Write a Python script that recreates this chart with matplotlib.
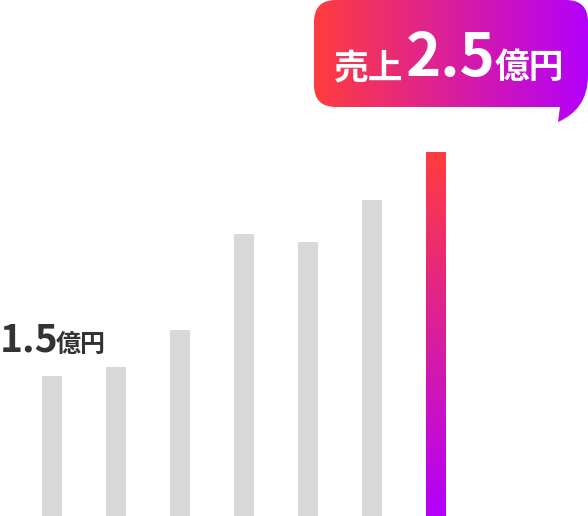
import numpy as np
import matplotlib
matplotlib.use("Agg")
import matplotlib.pyplot as plt
from matplotlib.path import Path
from matplotlib.patches import PathPatch
from matplotlib.colors import LinearSegmentedColormap

plt.rcParams['font.family'] = ['Noto Sans CJK JP', 'DejaVu Sans']

# sales per period (億円), last one highlighted
periods = ['1', '2', '3', '4', '5', '6', '7']
sales = [0.96, 1.02, 1.28, 1.94, 1.88, 2.17, 2.5]
start_label = ('1.5', '億円')
peak_label = ('売上', '2.5', '億円')

grad = LinearSegmentedColormap.from_list('hl', ['#b400fb', '#ff3d3d'])
grad_h = LinearSegmentedColormap.from_list('hl_h', ['#ff3d3d', '#b400fb'])

fig = plt.figure(figsize=(5.88, 5.16), dpi=100)
ax = fig.add_axes([0, 0, 1, 1])
ax.axis('off')

x = np.arange(len(periods))
w = 20 / 64
ax.bar(x[:-1], sales[:-1], width=w, color='#d9d9d9')

# gradient on the last bar
last = ax.bar(x[-1], sales[-1], width=w, color='none')[0]
img = ax.imshow(np.linspace(0, 1, 256).reshape(-1, 1), cmap=grad, aspect='auto',
                extent=[x[-1] - w / 2, x[-1] + w / 2, 0, sales[-1]], origin='lower')
img.set_clip_path(last)
ax.set_xlim(-52 / 64, (588 - 52) / 64)
ax.set_ylim(0, 516 / 145.6)

# overlay in pixel coordinates for the callout
ov = fig.add_axes([0, 0, 1, 1])
ov.axis('off')

verts = [(336, 0), (566, 0), (588, 0), (588, 22), (588, 75),
         (588, 100), (576, 114), (558, 122), (560, 107),
         (336, 107), (314, 107), (314, 85), (314, 22), (314, 0), (336, 0), (336, 0)]
codes = [Path.MOVETO, Path.LINETO, Path.CURVE3, Path.CURVE3, Path.LINETO,
         Path.CURVE4, Path.CURVE4, Path.CURVE4, Path.LINETO,
         Path.LINETO, Path.CURVE3, Path.CURVE3, Path.LINETO, Path.CURVE3, Path.CURVE3,
         Path.CLOSEPOLY]
bubble = PathPatch(Path(verts, codes), facecolor='none', edgecolor='none')
ov.add_patch(bubble)
bg = ov.imshow(np.linspace(0, 1, 256).reshape(1, -1), cmap=grad_h, aspect='auto',
               extent=[314, 588, 122, 0])
bg.set_clip_path(bubble)
ov.set_xlim(0, 588)
ov.set_ylim(516, 0)

ov.text(334, 78, peak_label[0], color='white', fontsize=25, fontweight='bold', va='baseline')
ov.text(406, 76, peak_label[1], color='white', fontsize=43, fontweight='bold', va='baseline')
ov.text(495, 78, peak_label[2], color='white', fontsize=25, fontweight='bold', va='baseline')

ov.text(0, 351, start_label[0], color='#333333', fontsize=28, fontweight='bold', va='baseline')
ov.text(56, 352, start_label[1], color='#333333', fontsize=18, fontweight='bold', va='baseline')

fig.savefig('out.png', dpi=100)
